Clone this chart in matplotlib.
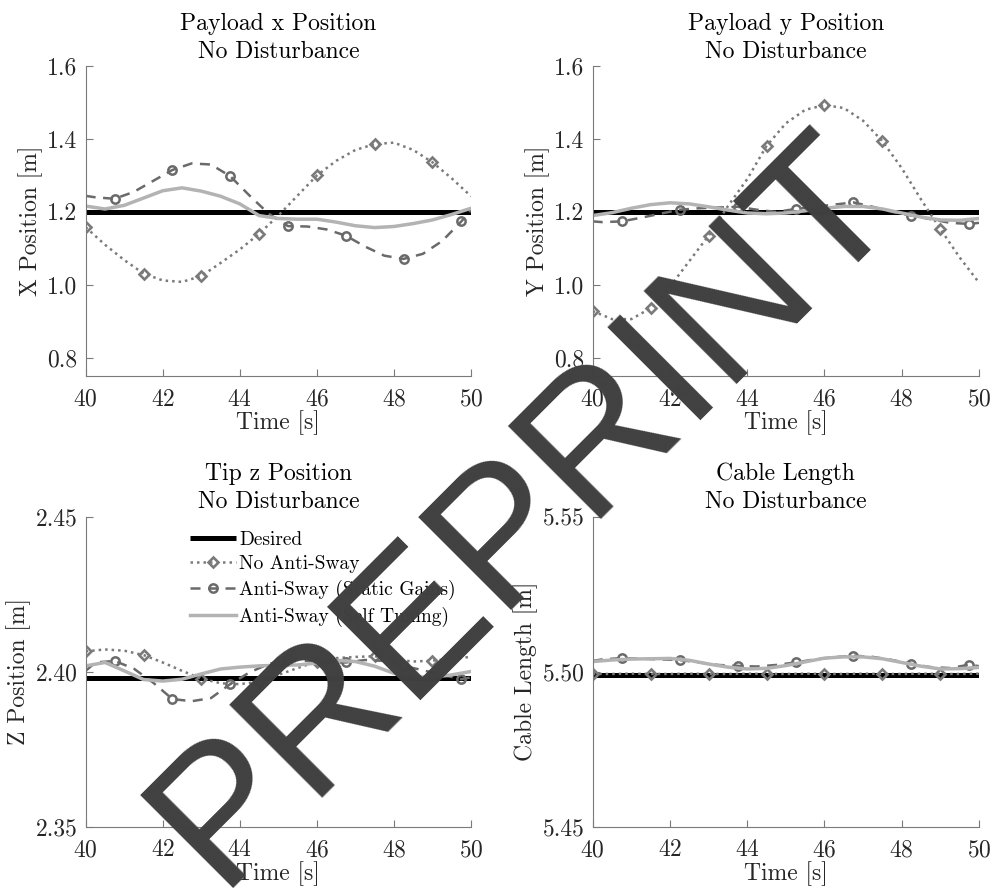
import numpy as np
import matplotlib
matplotlib.use('Agg')
import matplotlib.pyplot as plt
from matplotlib.lines import Line2D
from matplotlib.ticker import FormatStrFormatter

plt.rcParams['font.family'] = 'cmr10'
plt.rcParams['mathtext.fontset'] = 'cm'
plt.rcParams['axes.unicode_minus'] = False
plt.rcParams['axes.formatter.use_mathtext'] = True

# time grids: 0.5 s grid, and a shifted grid for the static-gain runs
t_main = np.arange(40, 50.01, 0.5)
t_static = np.array([40.0, 40.25, 40.75, 41.25, 41.75, 42.25, 42.75, 43.25, 43.75, 44.25, 44.75,
                     45.25, 45.75, 46.25, 46.75, 47.25, 47.75, 48.25, 48.75, 49.25, 49.75, 50.0])

labels = ['Desired', 'No Anti-Sway', 'Anti-Sway (Static Gains)', 'Anti-Sway (Self Tuning)']

# payload x position
x_desired = 1.2
x_none = [1.158, 1.110, 1.068, 1.031, 1.012, 1.008, 1.024, 1.060, 1.097, 1.140, 1.190,
          1.245, 1.300, 1.340, 1.370, 1.386, 1.390, 1.370, 1.336, 1.292, 1.243]
x_static = [1.244, 1.240, 1.236, 1.255, 1.285, 1.315, 1.333, 1.330, 1.298, 1.245, 1.195,
            1.161, 1.160, 1.152, 1.135, 1.105, 1.080, 1.071, 1.085, 1.120, 1.174, 1.205]
x_self = [1.216, 1.208, 1.218, 1.238, 1.258, 1.266, 1.257, 1.243, 1.222, 1.190, 1.182,
          1.180, 1.180, 1.172, 1.162, 1.157, 1.160, 1.168, 1.178, 1.193, 1.210]

# payload y position
y_desired = 1.2
y_none = [0.928, 0.906, 0.906, 0.936, 0.995, 1.065, 1.135, 1.216, 1.290, 1.381, 1.443,
          1.480, 1.493, 1.485, 1.450, 1.394, 1.320, 1.234, 1.153, 1.075, 1.006]
y_static = [1.174, 1.172, 1.174, 1.184, 1.195, 1.206, 1.210, 1.212, 1.214, 1.206, 1.200,
            1.208, 1.214, 1.220, 1.226, 1.214, 1.200, 1.190, 1.180, 1.170, 1.167, 1.170]
y_self = [1.190, 1.198, 1.210, 1.220, 1.225, 1.222, 1.214, 1.205, 1.197, 1.195, 1.197,
          1.203, 1.210, 1.215, 1.215, 1.208, 1.197, 1.186, 1.178, 1.177, 1.182]

# tip z position
z_desired = 2.398
z_none = [2.4066, 2.4072, 2.4068, 2.4054, 2.4030, 2.4003, 2.3978, 2.3963, 2.3960, 2.3968, 2.3990,
          2.4012, 2.4033, 2.4044, 2.4048, 2.4050, 2.4040, 2.4033, 2.4036, 2.4042, 2.4048]
z_static = [2.4003, 2.4030, 2.4035, 2.4010, 2.3965, 2.3912, 2.3905, 2.3915, 2.3960, 2.3998, 2.4025,
            2.4041, 2.4035, 2.4030, 2.4030, 2.4038, 2.4035, 2.4019, 2.4005, 2.3990, 2.3976, 2.3982]
z_self = [2.4019, 2.4030, 2.4003, 2.3975, 2.3970, 2.3976, 2.3993, 2.4009, 2.4015, 2.4019, 2.4021,
          2.4022, 2.4028, 2.4037, 2.4033, 2.4018, 2.3995, 2.3984, 2.3982, 2.3990, 2.4001]

# cable length
l_desired = 5.499
l_none = [5.4993, 5.4993, 5.4994, 5.4993, 5.4993, 5.4994, 5.4993, 5.4993, 5.4994, 5.4993, 5.4993,
          5.4994, 5.4993, 5.4993, 5.4994, 5.4993, 5.4993, 5.4994, 5.4993, 5.4993, 5.4994]
l_static = [5.5035, 5.5040, 5.5044, 5.5042, 5.5040, 5.5038, 5.5030, 5.5022, 5.5019, 5.5017, 5.5022,
            5.5030, 5.5040, 5.5047, 5.5052, 5.5048, 5.5038, 5.5025, 5.5015, 5.5012, 5.5023, 5.5018]
l_self = [5.5033, 5.5038, 5.5041, 5.5042, 5.5043, 5.5037, 5.5025, 5.5015, 5.5009, 5.5011, 5.5020,
          5.5032, 5.5044, 5.5048, 5.5048, 5.5042, 5.5030, 5.5018, 5.5009, 5.5010, 5.5014]

c_none = '#7a7a7a'
c_static = '#6a6a6a'
c_self = '#b3b3b3'
spine_c = '#7a7a7a'
fs = 17

style_desired = dict(color='black', lw=3.6, solid_capstyle='butt')
style_none = dict(color=c_none, lw=1.8, ls=(0, (1, 1.6)), marker='D', ms=4.8, mew=1.9, mfc='none')
style_static = dict(color=c_static, lw=1.8, ls=(0, (4, 3)), marker='o', ms=6, mew=1.8, mfc='none')
style_self = dict(color=c_self, lw=2.5)


def panel(ax, desired, none, static, selft, title, ylabel, ylim, yticks, fmt):
    ax.plot([40, 50], [desired, desired], **style_desired)
    ax.plot(t_main, none, markevery=slice(0, None, 3), **style_none)
    ax.plot(t_static, static, markevery=slice(2, None, 3), **style_static)
    ax.plot(t_main, selft, **style_self)
    ax.set_xlim(40, 50)
    ax.set_ylim(*ylim)
    ax.set_xticks([40, 42, 44, 46, 48, 50])
    ax.set_yticks(yticks)
    ax.yaxis.set_major_formatter(FormatStrFormatter(fmt))
    ax.spines['top'].set_visible(False)
    ax.spines['right'].set_visible(False)
    for s in ['left', 'bottom']:
        ax.spines[s].set_color(spine_c)
        ax.spines[s].set_linewidth(0.8)
    ax.tick_params(direction='in', length=5, width=0.8, color=spine_c,
                   labelcolor='#262626', labelsize=fs)
    ax.tick_params(axis='x', pad=9)
    ax.tick_params(axis='y', pad=6)
    ax.set_title(title, fontsize=fs, pad=6, linespacing=1.35)
    ax.set_xlabel('Time [s]', fontsize=fs, labelpad=0, color='#262626')
    ax.set_ylabel(ylabel, fontsize=fs, labelpad=3, color='#262626')


fig = plt.figure(figsize=(9.92, 8.88), dpi=100)
ax1 = fig.add_axes([0.0864, 0.5766, 0.3884, 0.349])
ax2 = fig.add_axes([0.5975, 0.5766, 0.3894, 0.349])
ax3 = fig.add_axes([0.0864, 0.069, 0.3884, 0.349])
ax4 = fig.add_axes([0.5975, 0.069, 0.3894, 0.349])

panel(ax1, x_desired, x_none, x_static, x_self, 'Payload x Position\nNo Disturbance',
      'X Position [m]', (0.75, 1.6), [0.8, 1.0, 1.2, 1.4, 1.6], '%.1f')
panel(ax2, y_desired, y_none, y_static, y_self, 'Payload y Position\nNo Disturbance',
      'Y Position [m]', (0.75, 1.6), [0.8, 1.0, 1.2, 1.4, 1.6], '%.1f')
panel(ax3, z_desired, z_none, z_static, z_self, 'Tip z Position\nNo Disturbance',
      'Z Position [m]', (2.35, 2.45), [2.35, 2.40, 2.45], '%.2f')
panel(ax4, l_desired, l_none, l_static, l_self, 'Cable Length\nNo Disturbance',
      'Cable Length [m]', (5.45, 5.55), [5.45, 5.50, 5.55], '%.2f')

handles = [Line2D([], [], **style_desired), Line2D([], [], **style_none),
           Line2D([], [], **style_static), Line2D([], [], **style_self)]
ax3.legend(handles, labels, loc='upper left', bbox_to_anchor=(0.27, 0.955), frameon=False,
           fontsize=14, handlelength=2.4, handletextpad=0.15, labelspacing=0.34,
           borderpad=0, borderaxespad=0)

fig.text(0.2183, 0.0005, 'PREPRINT', rotation=45, rotation_mode='anchor', ha='left',
         va='baseline', fontsize=138, family='Liberation Sans', color='#404040', zorder=10)

fig.savefig('out.png', dpi=100)
